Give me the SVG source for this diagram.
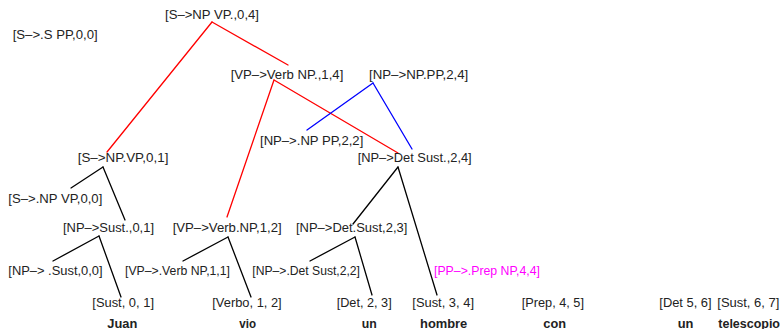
<svg xmlns="http://www.w3.org/2000/svg" width="782" height="329" viewBox="0 0 782 329">
<style>
text{font-family:"Liberation Sans",Arial,Helvetica,sans-serif;font-size:12px;fill:#222}
.w{font-weight:bold}
.m{fill:#ff00ff}
line{stroke-width:1.3;stroke-linecap:round}
.k{stroke:#000}
.r{stroke:#ff0000}
.b{stroke:#0000ff}
</style>
<rect width="782" height="329" fill="#fff"/>
<g id="connectors">
<line class="r" x1="212" y1="22" x2="107" y2="152"/>
<line class="r" x1="212" y1="22" x2="288" y2="65"/>
<line class="r" x1="274" y1="80" x2="227" y2="217"/>
<line class="r" x1="274" y1="80" x2="398" y2="153"/>
<line class="b" x1="373" y1="83" x2="307" y2="130"/>
<line class="b" x1="373" y1="83" x2="412" y2="149"/>
<line class="k" x1="103" y1="167" x2="71" y2="188"/>
<line class="k" x1="103" y1="167" x2="125" y2="220"/>
<line class="k" x1="99" y1="236" x2="53" y2="261"/>
<line class="k" x1="99" y1="236" x2="121" y2="297"/>
<line class="k" x1="228" y1="237" x2="183" y2="261"/>
<line class="k" x1="228" y1="237" x2="251" y2="297"/>
<line class="k" x1="398" y1="167" x2="353" y2="224"/>
<line class="k" x1="398" y1="167" x2="437" y2="295"/>
<line class="k" x1="355" y1="237" x2="310" y2="261"/>
<line class="k" x1="355" y1="237" x2="372" y2="295"/>
</g>
<g id="n-S-NPVP-04"><text x="165" y="18.5" textLength="94" lengthAdjust="spacingAndGlyphs">[S–&gt;NP VP.,0,4]</text></g>
<g id="n-S-SPP-00"><text x="12.7" y="38.5" textLength="85" lengthAdjust="spacingAndGlyphs">[S–&gt;.S PP,0,0]</text></g>
<g id="n-VP-VerbNP-14"><text x="230.7" y="78.5" textLength="112.6" lengthAdjust="spacingAndGlyphs">[VP–&gt;Verb NP.,1,4]</text></g>
<g id="n-NP-NPPP-24"><text x="369" y="78.5" textLength="99.3" lengthAdjust="spacingAndGlyphs">[NP–&gt;NP.PP,2,4]</text></g>
<g id="n-NP-NPPP-22"><text x="260" y="144.5" textLength="103.3" lengthAdjust="spacingAndGlyphs">[NP–&gt;.NP PP,2,2]</text></g>
<g id="n-NP-DetSust-24"><text x="357.7" y="161.8" textLength="114" lengthAdjust="spacingAndGlyphs">[NP–&gt;Det Sust.,2,4]</text></g>
<g id="n-S-NPVP-01"><text x="77.7" y="162" textLength="90.7" lengthAdjust="spacingAndGlyphs">[S–&gt;NP.VP,0,1]</text></g>
<g id="n-S-NPVP-00"><text x="8.3" y="202.5" textLength="94" lengthAdjust="spacingAndGlyphs">[S–&gt;.NP VP,0,0]</text></g>
<g id="n-NP-Sust-01"><text x="63" y="231.5" textLength="91" lengthAdjust="spacingAndGlyphs">[NP–&gt;Sust.,0,1]</text></g>
<g id="n-VP-VerbNP-12"><text x="172.7" y="231.5" textLength="109" lengthAdjust="spacingAndGlyphs">[VP–&gt;Verb.NP,1,2]</text></g>
<g id="n-NP-DetSust-23"><text x="296" y="231.5" textLength="111.3" lengthAdjust="spacingAndGlyphs">[NP–&gt;Det.Sust,2,3]</text></g>
<g id="n-NP-Sust-00"><text x="8.3" y="274.5" textLength="94.3" lengthAdjust="spacingAndGlyphs">[NP–&gt; .Sust,0,0]</text></g>
<g id="n-VP-VerbNP-11"><text x="125" y="274.5" textLength="105" lengthAdjust="spacingAndGlyphs">[VP–&gt;.Verb NP,1,1]</text></g>
<g id="n-NP-DetSust-22"><text x="252.3" y="274.5" textLength="107.7" lengthAdjust="spacingAndGlyphs">[NP–&gt;.Det Sust,2,2]</text></g>
<g id="n-PP-PrepNP-44"><text class="m" x="434" y="274.5" textLength="106" lengthAdjust="spacingAndGlyphs">[PP–&gt;.Prep NP,4,4]</text></g>
<g id="n-Sust-01"><text x="92.3" y="307" textLength="61.7" lengthAdjust="spacingAndGlyphs">[Sust, 0, 1]</text></g>
<g id="n-Verbo-12"><text x="212.3" y="307" textLength="69.4" lengthAdjust="spacingAndGlyphs">[Verbo, 1, 2]</text></g>
<g id="n-Det-23"><text x="336.7" y="307" textLength="55" lengthAdjust="spacingAndGlyphs">[Det, 2, 3]</text></g>
<g id="n-Sust-34"><text x="412.3" y="307" textLength="61.7" lengthAdjust="spacingAndGlyphs">[Sust, 3, 4]</text></g>
<g id="n-Prep-45"><text x="521.7" y="307" textLength="62.3" lengthAdjust="spacingAndGlyphs">[Prep, 4, 5]</text></g>
<g id="n-Det-56"><text x="659.3" y="307" textLength="52.3" lengthAdjust="spacingAndGlyphs">[Det 5, 6]</text></g>
<g id="n-Sust-67"><text x="717.3" y="307" textLength="62" lengthAdjust="spacingAndGlyphs">[Sust, 6, 7]</text></g>
<g id="words">
<text class="w" x="107.3" y="327.5" textLength="30" lengthAdjust="spacingAndGlyphs">Juan</text>
<text class="w" x="239.3" y="327.5" textLength="16.7" lengthAdjust="spacingAndGlyphs">vio</text>
<text class="w" x="361.7" y="327.5" textLength="15" lengthAdjust="spacingAndGlyphs">un</text>
<text class="w" x="420" y="327.5" textLength="47.3" lengthAdjust="spacingAndGlyphs">hombre</text>
<text class="w" x="543.3" y="327.5" textLength="22.7" lengthAdjust="spacingAndGlyphs">con</text>
<text class="w" x="677.7" y="327.5" textLength="15.7" lengthAdjust="spacingAndGlyphs">un</text>
<text class="w" x="718.3" y="327.5" textLength="61.7" lengthAdjust="spacingAndGlyphs">telescopio</text>
</g>
</svg>
